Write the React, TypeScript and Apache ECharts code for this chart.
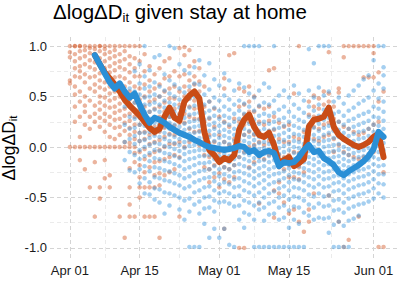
import React, { useEffect, useRef } from "react";
import * as echarts from "echarts";

// x = days since Apr 01
const tickDays = [0, 14, 30, 44, 61];
const tickLabels = ["Apr 01", "Apr 15", "May 01", "May 15", "Jun 01"];
const minorDays = [7, 22, 37, 52.5];
const yMajor = [-1, -0.5, 0, 0.5, 1];
const yMinor = [-0.75, -0.25, 0.25, 0.75];

// scatter columns (values in hundredths), one list per day
const orangeStartDay = 0;
const orangeCols: number[][] = [
  [100, 94, 89, 66, 63, 0],
  [100, 100, 92, 85, 78, 70, 60, 52, 40, 25, 0],
  [100, 100, 95, 88, 80, 75, 69, 55, 45, 30, 10, 0, -13],
  [100, 96, 90, 82, 72, 64, 50, 41, 35, 22, 0, -22],
  [100, 98, 93, 86, 79, 69, 58, 46, 30, 18, 0, -40],
  [100, 97, 90, 84, 77, 70, 62, 55, 41, 33, 25, 0, -15, -69],
  [100, 100, 95, 88, 81, 73, 66, 59, 50, 44, 37, 29, 20, 0, -40, -51],
  [100, 97, 92, 85, 78, 72, 64, 57, 49, 41, 33, 26, 15, 0, -13, -31],
  [100, 94, 88, 80, 74, 67, 60, 53, 46, 39, 30, 22, 10, 0, -28, -40],
  [100, 96, 90, 83, 76, 69, 61, 55, 48, 40, 34, 27, 19, 8, 0],
  [100, 92, 85, 79, 70, 63, 56, 50, 43, 36, 28, 20, 12, 0, -69],
  [100, 95, 87, 77, 68, 60, 52, 45, 38, 31, 24, 16, 5, 0, -90],
  [100, 90, 82, 74, 64, 55, 47, 40, 33, 26, 19, 12, 4, 0, -21, -40, -57, -69],
  [100, 88, 78, 70, 60, 52, 44, 37, 30, 22, 15, 8, 0, -6, -15, -69],
  [100, 85, 70, 58, 47, 38, 30, 22, 14, 6, -5, -18, -30, -40, -50],
  [92, 75, 62, 50, 40, 31, 24, 15, 8, -2, -12, -25, -40, -69],
  [80, 66, 55, 45, 35, 27, 20, 12, 3, -8, -20, -40, -69],
  [72, 58, 47, 38, 28, 20, 13, 5, -5, -15, -28, -40, -69],
  [78, 62, 50, 40, 30, 22, 15, 7, -3, -14, -26, -38, -90],
  [85, 68, 55, 44, 35, 27, 19, 10, 0, -12, -28],
  [88, 70, 58, 48, 38, 30, 22, 13, 3, -10, -25],
  [75, 60, 48, 38, 29, 21, 12, 3, -8, -22],
  [98, 70, 55, 42, 33, 24, 15, 5, -10, -69],
  [99, 91, 72, 60, 50, 42, 33, 24, 12, 0],
  [96, 80, 66, 56, 48, 40, 30, 18, 5],
  [85, 70, 62, 54, 46, 38, 28, 15],
  [78, 65, 55, 46, 38, 28, 16, 2],
  [60, 40, 25, 14, 5, -8, -20],
  [45, 28, 12, 0, -10, -22, -35],
  [38, 20, 5, -8, -18, -30],
  [30, 12, -5, -15, -26, -40],
  [68, 58, 25, 5, -10, -20, -32, -81],
  [91, 20, 2, -12, -22, -35],
  [93, 28, 8, -8, -18, -30],
  [58, 40, 25, 15, 5, -10, -100],
  [55, 42, 32, 22, 12, -5, -100],
  [60, 45, 35, 25, 15, 0, -20],
  [50, 35, 22, 12, 2, -15],
  [40, 25, 14, 5, -10, -56],
  [38, 22, 12, 2, -12],
  [76, 40, 26, 16, 6, -8],
  [78, 30, 17, 5, -5, -43, -70],
  [24, 8, -8, -20, -35, -46],
  [20, 5, -10, -22, -55],
  [22, 5, -8, -18, -30, -66],
  [53, 10, -5, -18, -30, -62],
  [100, 8, -6, -20, -32, -74],
  [15, 0, -12, -25, -84],
  [45, 32, 22, 12, 0, -62, -74],
  [51, 40, 30, 20, 8, -46],
  [48, 38, 28, 18, 6],
  [55, 42, 32, 22, 10],
  [94, 53, 45, 35, 24, 12, -48],
  [40, 28, 18, 8, -5],
  [58, 54, 25, 12, 2, -74],
  [100, 89, 20, 8, -5, -99],
  [100, 18, 5, -8, -92],
  [100, 15, 2, -10],
  [100, 12, 0, -12, -69],
  [100, 69, 14, 2, -10],
  [100, 69, 18, 5, -8],
  [100, 93, 69, 22, 8, -5],
  [74, 45, 25, 10, -99],
  [55, 10, -10, -25, -99],
];

const blueStartDay = 11;
const blueCols: number[][] = [
  [40, 22, 5, -13],
  [58, 42, 30, 18, 8, -5, -23],
  [75, 55, 44, 36, 28, 19, 11, 3, -8, -25],
  [82, 63, 52, 44, 36, 29, 22, 14, 6, -3, -12, -22, -36],
  [100, 70, 58, 49, 42, 35, 28, 21, 14, 7, 0, -9, -19, -31, -46],
  [76, 60, 50, 42, 35, 28, 22, 15, 9, 2, -6, -14, -24, -35, -47],
  [89, 64, 52, 44, 37, 30, 24, 18, 11, 4, -3, -11, -20, -30, -41, -52],
  [91, 60, 50, 42, 35, 28, 22, 16, 10, 3, -4, -12, -21, -31, -42, -55],
  [72, 56, 46, 39, 32, 26, 20, 14, 8, 1, -6, -14, -23, -33, -45, -66],
  [100, 66, 53, 44, 37, 30, 24, 18, 12, 6, 0, -7, -15, -24, -34, -46, -58],
  [98, 62, 50, 42, 35, 28, 22, 16, 10, 4, -2, -9, -17, -26, -36, -48],
  [82, 58, 47, 39, 32, 26, 20, 14, 8, 2, -4, -11, -19, -28, -38, -50, -62],
  [76, 54, 44, 36, 29, 23, 17, 11, 5, -1, -7, -14, -22, -31, -41, -53, -72],
  [73, 60, 48, 39, 32, 25, 19, 13, 7, 1, -5, -12, -20, -29, -39, -51, -64, -99],
  [79, 63, 50, 41, 33, 26, 20, 14, 8, 2, -4, -11, -18, -26, -35, -45, -57, -99],
  [86, 62, 50, 41, 34, 27, 21, 15, 9, 3, -3, -9, -16, -24, -33, -43, -54, -66, -99],
  [71, 52, 42, 34, 27, 21, 15, 9, 3, -3, -9, -16, -23, -31, -40, -50, -61, -76],
  [83, 57, 45, 36, 29, 22, 16, 10, 4, -2, -8, -15, -22, -30, -39, -49, -60, -90],
  [67, 49, 39, 31, 24, 18, 12, 6, 0, -6, -12, -19, -26, -34, -43, -53, -64, -81],
  [61, 46, 36, 28, 21, 15, 9, 3, -3, -9, -15, -22, -29, -37, -46, -55, -90],
  [73, 51, 40, 31, 24, 17, 11, 5, -1, -7, -13, -20, -27, -35, -44, -54, -81],
  [66, 47, 37, 29, 22, 15, 9, 3, -3, -9, -15, -22, -29, -37, -46, -56, -97],
  [56, 42, 33, 25, 18, 12, 6, 0, -6, -12, -18, -25, -32, -40, -49, -59, -99],
  [63, 46, 36, 28, 21, 14, 8, 2, -4, -10, -17, -24, -31, -39, -48, -58, -72],
  [100, 59, 43, 33, 25, 18, 12, 6, 0, -6, -12, -19, -26, -34, -43, -53, -65, -80],
  [100, 53, 40, 31, 23, 16, 10, 4, -2, -8, -14, -21, -28, -36, -45, -55, -67],
  [100, 49, 36, 27, 20, 13, 7, 1, -5, -11, -17, -24, -31, -39, -48, -58, -72, -99],
  [100, 56, 41, 31, 23, 16, 10, 4, -2, -8, -14, -21, -28, -36, -45, -55, -62, -99],
  [63, 44, 33, 25, 18, 11, 5, -1, -7, -13, -19, -26, -33, -41, -50, -60, -73, -99],
  [59, 42, 31, 23, 16, 9, 3, -3, -9, -15, -22, -29, -37, -46, -56, -67, -99],
  [100, 46, 34, 25, 18, 11, 5, -1, -7, -13, -20, -27, -35, -44, -54, -66, -99],
  [51, 37, 27, 19, 12, 5, -1, -7, -13, -19, -26, -33, -41, -50, -60, -72, -99],
  [56, 40, 29, 21, 14, 7, 1, -5, -11, -17, -24, -31, -39, -48, -58, -70, -99],
  [49, 35, 25, 17, 10, 3, -3, -9, -15, -21, -28, -35, -43, -52, -63, -80, -99],
  [61, 42, 30, 21, 13, 6, 0, -6, -12, -18, -25, -32, -40, -49, -59, -72, -99],
  [53, 38, 27, 19, 12, 5, -1, -7, -13, -19, -26, -33, -41, -50, -60, -76, -99],
  [46, 34, 25, 17, 10, 3, -3, -9, -15, -21, -28, -35, -43, -53, -65, -99],
  [97, 56, 40, 30, 22, 15, 8, 2, -4, -10, -16, -23, -30, -38, -47, -57, -68],
  [83, 49, 36, 27, 19, 12, 6, 0, -6, -12, -18, -25, -32, -40, -49, -60, -72],
  [100, 59, 42, 31, 23, 16, 9, 3, -3, -9, -15, -22, -29, -37, -46, -56, -70],
  [100, 51, 37, 27, 19, 12, 6, 0, -6, -12, -18, -25, -32, -40, -49, -59, -71],
  [100, 55, 40, 29, 21, 14, 7, 1, -5, -11, -17, -24, -31, -39, -48, -58, -70, -85],
  [45, 33, 24, 16, 9, 2, -4, -10, -16, -22, -29, -36, -44, -53, -63, -77, -99],
  [49, 35, 25, 17, 10, 3, -3, -9, -15, -21, -28, -35, -43, -52, -62, -74, -99],
  [43, 31, 22, 14, 7, 0, -6, -12, -18, -24, -31, -38, -46, -55, -65, -78, -99],
  [51, 36, 26, 18, 11, 4, -2, -8, -14, -20, -27, -34, -42, -51, -61, -73, -99],
  [56, 39, 28, 20, 13, 6, 0, -6, -12, -18, -25, -32, -40, -49, -59, -71],
  [61, 43, 31, 22, 15, 8, 2, -4, -10, -16, -23, -30, -38, -47, -57, -68],
  [67, 46, 33, 24, 16, 9, 3, -3, -9, -15, -22, -29, -37, -46, -56],
  [71, 49, 35, 26, 18, 11, 5, -1, -7, -13, -20, -27, -35, -44, -54],
  [86, 56, 40, 30, 22, 15, 8, 2, -4, -10, -17, -24, -32, -41, -51],
  [100, 63, 48, 38, 29, 21, 14, 7, 1, -5, -12, -19, -27, -36, -46],
  [100, 79, 71, 58, 45, 35, 26, 18, 11, 4, -3, -10, -18, -27, -37, -50],
];

// rolling lines, one value per day from lineStartDay
const lineStartDay = 5;
const orangeLine = [
  0.91, 0.82, 0.74, 0.68, 0.62, 0.55, 0.47, 0.41, 0.36, 0.31,
  0.25, 0.19, 0.15, 0.18, 0.30, 0.39, 0.29, 0.26, 0.45, 0.51,
  0.55, 0.48, 0.15, -0.03, -0.08, -0.15, -0.11, -0.13, -0.08, 0.17,
  0.27, 0.32, 0.20, 0.12, 0.10, 0.14, 0.02, -0.16, -0.13, -0.10,
  -0.19, -0.16, -0.12, 0.20, 0.27, 0.28, 0.30, 0.39, 0.20, 0.12,
  0.08, 0.05, 0.02, 0.00, 0.02, 0.05, 0.10, 0.13, -0.10,
];
const blueLine = [
  0.91, 0.82, 0.73, 0.64, 0.58, 0.63, 0.55, 0.49, 0.53, 0.42,
  0.32, 0.24, 0.29, 0.27, 0.24, 0.20, 0.17, 0.14, 0.12, 0.10,
  0.07, 0.05, 0.02, 0.00, -0.01, -0.02, -0.03, -0.02, -0.01, 0.01,
  0.00, -0.05, -0.03, -0.08, -0.05, -0.04, -0.06, -0.19, -0.15, -0.16,
  -0.15, -0.10, -0.03, 0.02, -0.05, -0.04, -0.11, -0.14, -0.18, -0.25,
  -0.28, -0.24, -0.21, -0.18, -0.14, -0.09, -0.02, 0.15, 0.10,
];

const FONT = "Liberation Sans, Arial, Helvetica, sans-serif";
const ORANGE_PT = "rgba(210, 85, 35, 0.55)";
const BLUE_PT = "rgba(50, 145, 220, 0.55)";
const ORANGE_LN = "#C94C16";
const BLUE_LN = "#2A8FD6";

function colsToPoints(cols: number[][], start: number) {
  const out: number[][] = [];
  cols.forEach((col, i) => col.forEach((v) => out.push([start + i, v / 100])));
  return out;
}
function lineToPoints(vals: number[], start: number) {
  return vals.map((v, i) => [start + i, v]);
}

export default function App() {
  const ref = useRef<HTMLDivElement>(null);
  useEffect(() => {
    const chart = echarts.init(ref.current!, null, { renderer: "svg" });
    const major = { color: "#d4d4d4", width: 1, type: [4, 3] as any };
    const minor = { color: "#ebebeb", width: 1, type: [4, 3] as any };
    const gridData: any[] = [
      ...tickDays.map((d) => ({ xAxis: d, lineStyle: major })),
      ...minorDays.map((d) => ({ xAxis: d, lineStyle: minor })),
      ...yMajor.map((v) => ({ yAxis: v, lineStyle: major })),
      ...yMinor.map((v) => ({ yAxis: v, lineStyle: minor })),
    ];
    const mainRich = { fontWeight: "normal", fontFamily: FONT, color: "#000" };
    chart.setOption({
      animation: false,
      title: {
        text: "{m|ΔlogΔD}{s|it}{m| given stay at home}",
        left: 53,
        top: -2,
        padding: 0,
        textStyle: {
          rich: {
            m: { ...mainRich, fontSize: 20.5, lineHeight: 26 },
            s: { ...mainRich, fontSize: 13, lineHeight: 15, verticalAlign: "bottom" },
          },
        },
      },
      graphic: [
        {
          type: "text",
          x: 9,
          y: 148,
          rotation: Math.PI / 2,
          silent: true,
          style: {
            text: "{m|ΔlogΔD}{s|it}",
            align: "center",
            verticalAlign: "middle",
            rich: {
              m: { ...mainRich, fontSize: 17.5, lineHeight: 20 },
              s: { ...mainRich, fontSize: 11.5, lineHeight: 12, verticalAlign: "bottom" },
            },
          },
        },
      ],
      grid: { left: 50, right: 4, top: 36, bottom: 43 },
      xAxis: {
        type: "value",
        min: -4,
        max: 65.7,
        axisLine: { show: false },
        axisTick: { show: false },
        splitLine: { show: false },
        axisLabel: {
          customValues: tickDays,
          formatter: (v: number) => {
            const i = tickDays.indexOf(v);
            return i >= 0 ? tickLabels[i] : "";
          },
          fontFamily: FONT,
          fontSize: 13,
          color: "#1a1a1a",
          margin: 6,
        },
      },
      yAxis: {
        type: "value",
        min: -1.1,
        max: 1.1,
        axisLine: { show: false },
        axisTick: { show: false },
        splitLine: { show: false },
        axisLabel: {
          customValues: yMajor,
          formatter: (v: number) => v.toFixed(1),
          fontFamily: FONT,
          fontSize: 13,
          color: "#1a1a1a",
          margin: 3,
        },
      },
      series: [
        {
          type: "line",
          data: [],
          z: 0,
          silent: true,
          markLine: {
            z: 0,
            silent: true,
            symbol: ["none", "none"],
            label: { show: false },
            animation: false,
            data: gridData,
          },
        },
        {
          type: "scatter",
          z: 2,
          symbolSize: 4.5,
          itemStyle: { color: ORANGE_PT },
          data: colsToPoints(orangeCols, orangeStartDay),
        },
        {
          type: "scatter",
          z: 2,
          symbolSize: 4.5,
          itemStyle: { color: BLUE_PT },
          data: colsToPoints(blueCols, blueStartDay),
        },
        {
          type: "line",
          z: 3,
          showSymbol: false,
          symbol: "none",
          lineStyle: { color: ORANGE_LN, width: 6, cap: "round", join: "round" },
          data: lineToPoints(orangeLine, lineStartDay),
        },
        {
          type: "line",
          z: 4,
          showSymbol: false,
          symbol: "none",
          lineStyle: { color: BLUE_LN, width: 6, cap: "round", join: "round" },
          data: lineToPoints(blueLine, lineStartDay),
        },
      ],
    });
    return () => chart.dispose();
  }, []);
  return (
    <div
      ref={ref}
      style={{ position: "fixed", left: 0, top: 0, width: 401, height: 301, background: "#fff" }}
    />
  );
}
